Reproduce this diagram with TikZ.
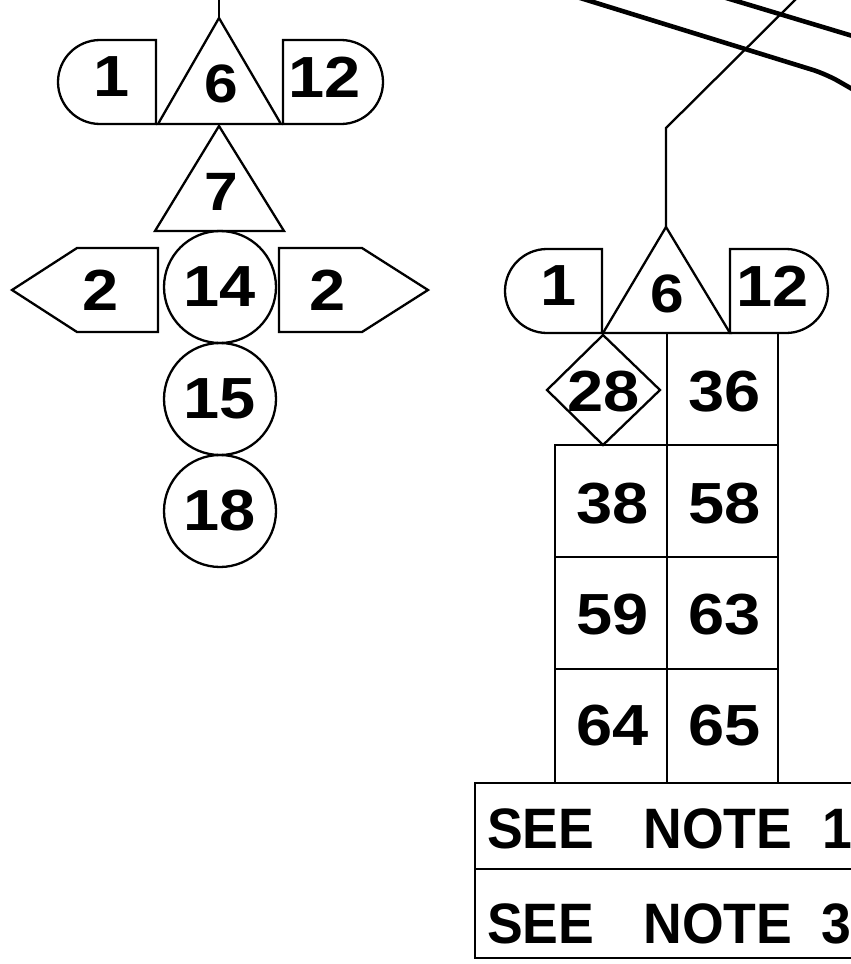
\documentclass[tikz,border=0pt]{standalone}
\usepackage{fontspec}
\newfontfamily\numfont[FakeStretch=1.12]{Liberation Sans}
\newfontfamily\notefont[FakeStretch=0.94]{Liberation Sans}
\usepackage{tikz}
\usetikzlibrary{calc,positioning}

\begin{document}
\begin{tikzpicture}[x=1pt,y=1pt,yscale=-1,
  outline/.style={line width=2.3pt},
  bus/.style={line width=4.6pt,rounded corners=14pt},
  num/.style={inner sep=0pt,font=\numfont\bfseries\fontsize{58}{58}\selectfont},
  trinum/.style={inner sep=0pt,font=\numfont\bfseries\fontsize{54}{54}\selectfont},
  ring/.style={circle,draw,outline,minimum size=112pt,num},
  notetext/.style={inner sep=0pt,anchor=base west,font=\notefont\bfseries\fontsize{57}{57}\selectfont}]
\useasboundingbox (0,0) rectangle (851,964);
\clip (0,0) rectangle (851,964);
% left group
\coordinate (feedL) at (219,-5);
\coordinate (apexL) at (219,18);
\draw[outline] (feedL) -- (apexL);
\draw[outline] (apexL) -- (281,124) -- (158,124) -- cycle;
\draw[outline] (156,124) -- (156,40) -- (100,40) arc[start angle=270,end angle=90,radius=42] -- cycle;
\draw[outline] (283,124) -- (283,40) -- (341,40) arc[start angle=-90,end angle=90,radius=42] -- cycle;
\draw[outline] (219,126) -- (284,231) -- (155,231) -- cycle;
\draw[outline] (158,248) -- (77,248) -- (12,290) -- (77,332) -- (158,332) -- cycle;
\draw[outline] (279,248) -- (362,248) -- (428,290) -- (362,332) -- (279,332) -- cycle;
\node[ring] (c14) at (220,287) {14};
\node[ring] (c15) at (220,399) {15};
\node[ring] (c18) at (220,511) {18};
\node[num] (l1) at (112,77) {1};
\node[trinum] (l6) at (221,84) {6};
\node[num] (l12) at (325,77) {12};
\node[trinum] (l7) at (221,192) {7};
\node[num] (l2a) at (101,290) {2};
\node[num] (l2b) at (328,290) {2};
% right group
\draw[bus] (577,-3) -- (826,74) -- (866,97);
\draw[bus] (723,-3) -- (866,40);
\coordinate (feedR) at (800,-5);
\coordinate (bendR) at (666,128);
\coordinate (apexR) at (666,227);
\draw[outline] (feedR) -- (bendR) -- (apexR);
\draw[outline] (apexR) -- (730,333) -- (603,333) -- cycle;
\draw[outline] (602,333) -- (602,249) -- (547,249) arc[start angle=270,end angle=90,radius=42] -- cycle;
\draw[outline] (730,333) -- (730,249) -- (786,249) arc[start angle=-90,end angle=90,radius=42] -- cycle;
\draw[outline] (603,335) -- (660,390) -- (603,445) -- (547,390) -- cycle;
\draw[outline] (667,333) rectangle (778,445);
\draw[outline] (555,445) rectangle (667,557);
\draw[outline] (667,445) rectangle (778,557);
\draw[outline] (555,557) rectangle (667,669);
\draw[outline] (667,557) rectangle (778,669);
\draw[outline] (555,669) rectangle (667,783);
\draw[outline] (667,669) rectangle (778,783);
\draw[outline] (475,783) rectangle (870,869);
\draw[outline] (475,869) rectangle (870,958);
\node[num] (r1) at (559,286) {1};
\node[trinum] (r6) at (667,294) {6};
\node[num] (r12) at (773,286) {12};
\node[num] (r28) at (604,392) {28};
\node[num] (r36) at (725,392) {36};
\node[num] (r38) at (613,504) {38};
\node[num] (r58) at (725,504) {58};
\node[num] (r59) at (613,615) {59};
\node[num] (r63) at (725,615) {63};
\node[num] (r64) at (613,726) {64};
\node[num] (r65) at (725,726) {65};
\node[notetext] (note1) at (487,848) {SEE\hspace{49pt}NOTE\hspace{30pt}1};
\node[notetext] (note3) at (487,943) {SEE\hspace{49pt}NOTE\hspace{29pt}3};
\end{tikzpicture}
\end{document}
